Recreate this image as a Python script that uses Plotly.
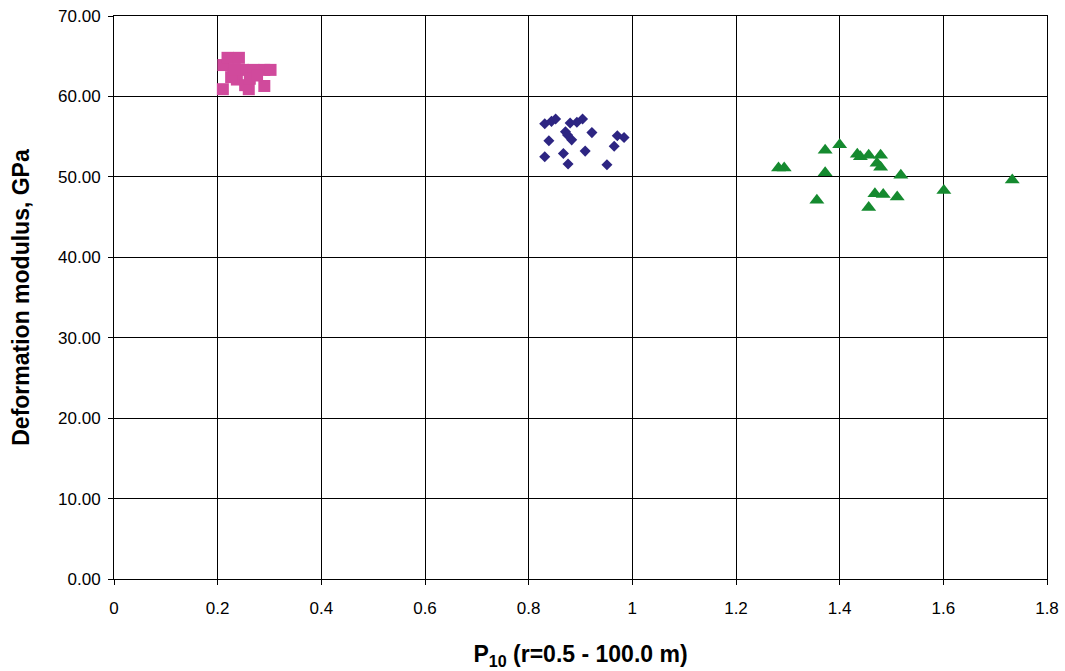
import plotly.graph_objects as go

# Set 1 (pink squares)
sq_x = [0.211, 0.219, 0.241, 0.210, 0.260, 0.290, 0.290, 0.302, 0.230, 0.249,
        0.269, 0.237, 0.253, 0.226, 0.233, 0.262, 0.276]
sq_y = [63.9, 64.8, 64.8, 60.9, 60.9, 61.3, 63.3, 63.3, 62.9, 63.3,
        63.3, 62.1, 61.4, 62.4, 63.4, 62.2, 62.6]

# Set 2 (navy diamonds)
di_x = [0.831, 0.844, 0.852, 0.839, 0.831, 0.867, 0.876, 0.880, 0.871, 0.883,
        0.893, 0.904, 0.909, 0.922, 0.951, 0.965, 0.971, 0.984, 0.875]
di_y = [56.6, 56.9, 57.2, 54.5, 52.5, 52.9, 51.6, 56.7, 55.6, 54.6,
        56.8, 57.2, 53.2, 55.5, 51.5, 53.8, 55.1, 54.9, 55.2]

# Set 3 (green triangles)
tr_x = [1.282, 1.293, 1.372, 1.400, 1.372, 1.356, 1.434, 1.440, 1.456, 1.479,
        1.472, 1.479, 1.518, 1.468, 1.484, 1.456, 1.511, 1.601, 1.733]
tr_y = [51.1, 51.1, 53.3, 54.0, 50.5, 47.1, 52.8, 52.5, 52.7, 52.7,
        51.7, 51.2, 50.2, 47.9, 47.8, 46.2, 47.5, 48.3, 49.6]

x_ticks = [0, 0.2, 0.4, 0.6, 0.8, 1.0, 1.2, 1.4, 1.6, 1.8]
x_tick_labels = ["0", "0.2", "0.4", "0.6", "0.8", "1", "1.2", "1.4", "1.6", "1.8"]
y_ticks = [0, 10, 20, 30, 40, 50, 60, 70]
y_tick_labels = ["0.00", "10.00", "20.00", "30.00", "40.00", "50.00", "60.00", "70.00"]

fig = go.Figure()
fig.add_trace(go.Scatter(x=sq_x, y=sq_y, mode="markers",
                         marker=dict(symbol="square", size=12, color="#D04A9C"),
                         showlegend=False))
fig.add_trace(go.Scatter(x=di_x, y=di_y, mode="markers",
                         marker=dict(symbol="diamond", size=8.5, color="#2D2582"),
                         showlegend=False))
fig.add_trace(go.Scatter(x=tr_x, y=tr_y, mode="markers",
                         marker=dict(symbol="triangle-up", size=13, color="#158A2F"),
                         showlegend=False))

font_family = "Liberation Sans, Arial, sans-serif"
fig.update_layout(
    width=1065, height=671,
    margin=dict(l=114, r=18, t=16, b=92),
    paper_bgcolor="white", plot_bgcolor="white",
    font=dict(family=font_family, color="black", size=17),
    xaxis=dict(range=[0, 1.8], tickvals=x_ticks, ticktext=x_tick_labels,
               showgrid=True, gridcolor="black", gridwidth=1,
               showline=True, linecolor="black", linewidth=1, mirror=True,
               ticks="outside", ticklen=5, tickcolor="black",
               ticklabelstandoff=9, zeroline=False, automargin=False,
               tickfont=dict(size=17),
               title=dict(text="<b>P<sub>10</sub> (r=0.5 - 100.0 m)</b>",
                          font=dict(size=23), standoff=28)),
    yaxis=dict(range=[0, 70], tickvals=y_ticks, ticktext=y_tick_labels,
               showgrid=True, gridcolor="black", gridwidth=1,
               showline=True, linecolor="black", linewidth=1, mirror=True,
               ticks="outside", ticklen=5, tickcolor="black",
               ticklabelstandoff=4, zeroline=False, automargin=False,
               tickfont=dict(size=17),
               title=dict(text="<b>Deformation modulus, GPa</b>",
                          font=dict(size=23), standoff=22)),
)

fig.write_html("out.html")
